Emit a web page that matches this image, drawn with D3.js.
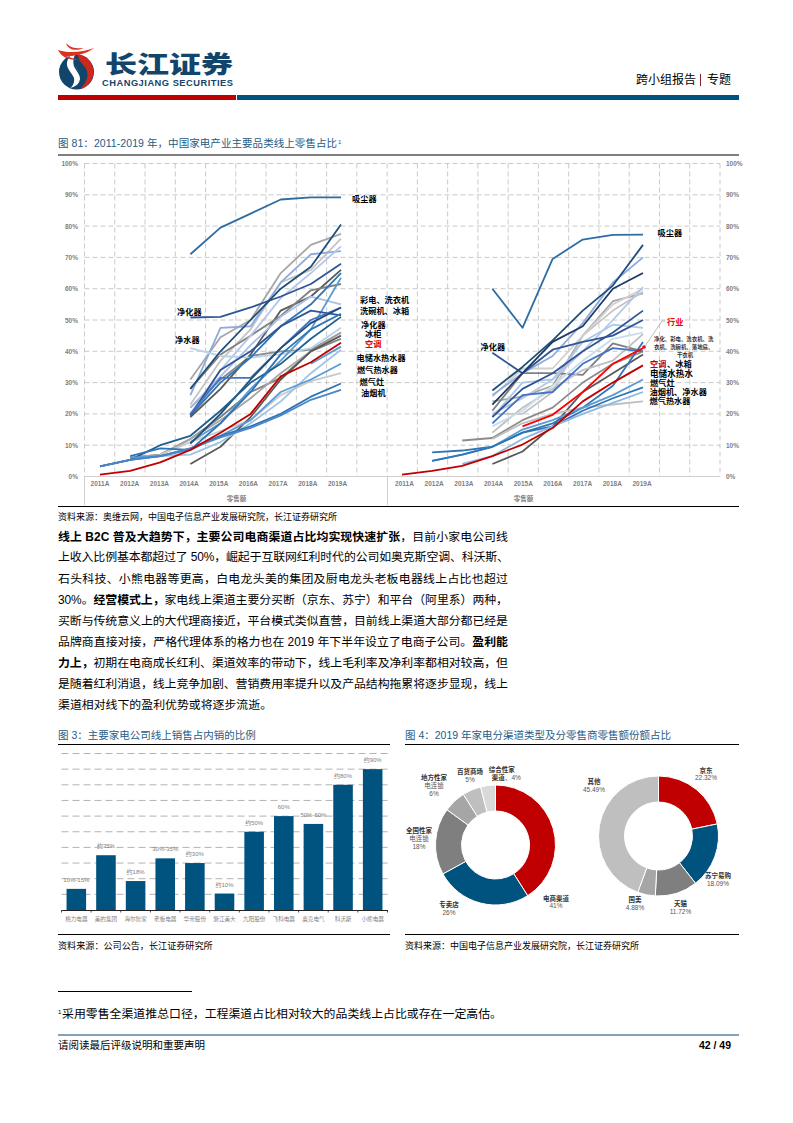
<!DOCTYPE html>
<html><head><meta charset="utf-8">
<script src="https://cdn.jsdelivr.net/npm/d3@7/dist/d3.min.js"></script>
<style>
html,body{margin:0;padding:0;background:#fff}
svg{display:block}
text{font-family:"Liberation Sans","Noto Sans CJK SC",sans-serif}
</style></head><body><svg id="page" width="793" height="1123"></svg>
<script>
// ---------- data ----------
const years = ["2011A","2012A","2013A","2014A","2015A","2016A","2017A","2018A","2019A"];
const pctTicks = [0,10,20,30,40,50,60,70,80,90,100];
const _ = null;
const leftValues = [
  [_,_,_,71,79.5,84,88.5,89.2,89.2],
  [_,_,_,31,44.5,50,65,74,77.5],
  [_,_,_,23,37,47,62,66,76],
  [_,_,_,22,31,38.5,40,40.5,46],
  [_,6,7,12,19,27,31.5,40,44],
  [_,6,7,12,18,25,33,40,46],
  [_,_,7,11,14.5,18,26,30.5,33],
  [_,_,_,4,9.5,19,31,40,45],
  [_,_,_,19,28,39,53,57.5,66],
  [_,_,_,28,39,45,51.3,59.5,61.5],
  [_,_,_,26,47.5,48,62,71,72],
  [_,_,_,20,34,45,57,65,73.5],
  [_,_,_,22,32,42,51,57.5,55],
  [_,_,_,41,38.5,38,39,41,47.5],
  [_,5.5,6.5,7,11,17,24,33,40.5],
  [_,_,_,50.8,51,54,57.5,61.5,68],
  [_,_,_,28,40,50,60,67,80.5],
  [_,_,_,19.5,30,38,48,55,65],
  [_,_,_,11,17,28,37,47,63.5],
  [_,_,_,19.5,34,40,48,53,51.5],
  [_,_,_,20,31.5,31.5,41,50,54],
  [_,_,_,10.5,20,31,41,49,54],
  [3.2,5.3,10,13,21,30,36,44,51],
  [_,6.5,9,8.5,17,27,39,47,52],
  [_,6,6.5,8.5,13,18,27,31,36],
  [_,_,_,_,_,_,_,36,41.5],
  [3.2,5.3,6.5,9,13,16,20,25.5,29.7],
  [3.2,5.3,6.5,9,12.5,15.5,19.5,24.5,27.7],
  [0.6,1.8,4.5,8.5,14,20,32,36.5,42.7]
];
const rightValues = [
  [_,_,_,60,47.5,69.5,75.7,77.2,77.3],
  [_,_,_,24,25.5,29,45,56,58.5],
  [_,_,_,20,20,27,45,53,59],
  [_,_,_,25.5,34.5,34.5,45,55,60],
  [_,_,11.5,12.3,18,22,30,36,40],
  [_,_,_,21,33,33,32.5,42.5,40],
  [_,_,_,4,8,16,27,33,39],
  [_,_,_,14,22,28,34,37,45.5],
  [_,_,_,12,17,20,22,23,24],
  [_,_,_,19,30,31,43,48.5,47.5],
  [_,_,_,20,25,31,40,50,60.5],
  [_,_,_,26,33,38.5,49,62,70],
  [_,_,_,16,21,29,37,44,46],
  [_,_,_,39.5,33,40.5,43,45,50],
  [_,_,_,27.5,35,43.5,53,61,74],
  [_,_,_,23,33,43,48,60,65],
  [_,_,_,17,26,27,36,41,40],
  [_,_,_,19,28,33,40,46,53],
  [_,7.7,8.3,9.5,14,17,22,29,43],
  [_,5,7,9.5,15,18,22,26,31],
  [_,5,7,9.5,14,16,21,25,28.5],
  [_,_,4,6.5,12,16,20,23.5,27],
  [_,_,_,_,16,19.7,27,36,41],
  [0.6,1.8,3.4,6.5,10.2,15.5,24,30,35.5]
];
const companies = ["格力电器","美的集团","海尔智家","老板电器","华帝股份","浙江美大","九阳股份","飞科电器","奥克电气","科沃斯","小熊电器"];
const companyShare = [13.5,35,18.5,33,30,10.5,50,60,55,80,90];
const companyLabels = ["10%-15%","约35%","约18%","30%-35%","约30%","约10%","约50%","60%","50%-60%","约80%","约90%"];
const channelShare = [41,26,18,6,5,4];
const retailerShare = [22.32,18.09,11.72,4.88,45.49];
const bodyLines = [
 [["线上 B2C 普及大趋势下，主要公司电商渠道占比均实现快速扩张",1],["，目前小家电公司线",0]],
 [["上收入比例基本都超过了 50%，崛起于互联网红利时代的公司如奥克斯空调、科沃斯、",0]],
 [["石头科技、小熊电器等更高，白电龙头美的集团及厨电龙头老板电器线上占比也超过",0]],
 [["30%。",0],["经营模式上，",1],["家电线上渠道主要分买断（京东、苏宁）和平台（阿里系）两种，",0]],
 [["买断与传统意义上的大代理商接近，平台模式类似直营，目前线上渠道大部分都已经是",0]],
 [["品牌商直接对接，严格代理体系的格力也在 2019 年下半年设立了电商子公司。",0],["盈利能",1]],
 [["力上，",1],["初期在电商成长红利、渠道效率的带动下，线上毛利率及净利率都相对较高，但",0]],
 [["是随着红利消退，线上竞争加剧、营销费用率提升以及产品结构拖累将逐步显现，线上",0]],
 [["渠道相对线下的盈利优势或将逐步流逝。",0]]
];

// ---------- styles ----------
const leftColors = ["#2e6ca4","#a6a6a6","#c4c4c4","#8c8c8c","#7f7f7f","#a6a6a6","#c9c9c9","#595959","#595959","#7f7f7f","#8faadc","#b4c7e7","#a9bfe6","#b8d2ea","#9dc3e6","#2f5597","#1f4e79","#2e75b6","#5b9bd5","#2f5597","#4472c4","#1f4e79","#1f5f8b","#2e75b6","#5b9bd5","#5b9bd5","#2e75b6","#4a86c8","#c00000"];
const rightColors = ["#2e6ca4","#a6a6a6","#c4c4c4","#d0d0d0","#8c8c8c","#7f7f7f","#595959","#bfbfbf","#bfbfbf","#a9c8e8","#b4c7e7","#8faadc","#c9dcf0","#2f5597","#1f4e79","#1f3864","#4472c4","#2f5597","#2e75b6","#5b9bd5","#2e75b6","#8fb8de","#ff0000","#c00000"];
const channelColors = ["#c00000","#00527f","#7f7f7f","#a6a6a6","#bfbfbf","#d9d9d9"];
const retailerColors = ["#c00000","#00527f","#7f7f7f","#a6a6a6","#bfbfbf"];
const TITLE = "#1d5c86", GREY = "#7f7f7f", GRID = "#bdbdbd";

const svg = d3.select("#page");
const T = (x,y,s,o={}) => svg.append("text").attr("x",x).attr("y",y)
  .attr("font-size",o.size||8).attr("font-weight",o.bold?"700":"400")
  .attr("fill",o.fill||"#000").attr("text-anchor",o.anchor||"start").text(s);
const rule = (x1,x2,y,c="#000",w=1) => svg.append("rect").attr("x",x1).attr("y",y-w/2).attr("width",x2-x1).attr("height",w).attr("fill",c);

// ---------- header ----------
const logo = svg.append("g");
logo.append("circle").attr("cx",76.5).attr("cy",72).attr("r",17.5).attr("fill","#12456b");
logo.append("path").attr("d","M78 54.6A17.5 17.5 0 0 1 80 89C88 82 90 72 84 66C81 62 78 60 78 54.6Z").attr("fill","#d0271d");
logo.append("path").attr("d","M70 56C62 66 72 72 74 78C75 83 72 87 70 88C80 86 82 78 79 72C75 65 71 62 75 55Z").attr("fill","#fff");
logo.append("path").attr("d","M75 60C72 66 78 70 80 75C82 80 80 85 78 88").attr("fill","none").attr("stroke","#12456b").attr("stroke-width",1.6);
logo.append("path").attr("d","M58 50C66 53 82 53 94 48C86 55 72 56 66 56L78 60C70 60 62 58 58 50Z").attr("fill","#e0301e");
logo.append("path").attr("d","M66 43C70 48 78 49 84 48C78 51 68 51 66 43Z").attr("fill","#e0301e");
svg.append("text").attr("x",105).attr("y",72.5).attr("font-size",24).attr("font-weight",900)
  .attr("fill","#12456b").attr("textLength",128).attr("lengthAdjust","spacingAndGlyphs")
  .style("font-family","'Noto Sans CJK SC'").text("长江证券");
svg.append("text").attr("x",102).attr("y",85.5).attr("font-size",9.3).attr("font-weight",700)
  .attr("fill","#12456b").attr("textLength",131).attr("lengthAdjust","spacing").text("CHANGJIANG SECURITIES");
rule(58,236,97.5,"#c00000",5);
rule(237,739,97.5,"#00527f",5);
T(636,84,"跨小组报告",{size:12});
rule(700,701,80,"#7a2020",12);
T(707,84,"专题",{size:12});

// ---------- figure 81 ----------
svg.append("text").attr("x",58).attr("y",147).attr("font-size",10.5).attr("fill",TITLE)
  .attr("textLength",279).attr("lengthAdjust","spacing").text("图 81：2011-2019 年，中国家电产业主要品类线上零售占比");
T(338,143.5,"1",{size:6,fill:TITLE});
rule(58,739,155);
const yPct = d3.scaleLinear().domain([0,100]).range([476.5,163.5]);
const gridXs = d3.range(0,22);
const xGrid = d3.scaleLinear().domain([0,21]).range([84.5,720]);
const gridG = svg.append("g");
gridG.selectAll("line.h").data(pctTicks.slice(1)).join("line")
  .attr("x1",84.5).attr("x2",720).attr("y1",yPct).attr("y2",yPct)
  .attr("stroke",GRID).attr("stroke-width",0.8).attr("stroke-dasharray","5 3");
gridG.selectAll("line.v").data(gridXs).join("line")
  .attr("x1",xGrid).attr("x2",xGrid).attr("y1",163.5).attr("y2",476.5)
  .attr("stroke",GRID).attr("stroke-width",0.8).attr("stroke-dasharray","5 3");
gridG.append("line").attr("x1",84.5).attr("x2",720).attr("y1",476.5).attr("y2",476.5).attr("stroke","#d0d0d0");
[84.5,387.5].forEach(x=>gridG.append("line").attr("x1",x).attr("x2",x).attr("y1",476.5).attr("y2",505).attr("stroke","#d0d0d0"));

const axisStyle = g => { g.select(".domain").remove(); g.selectAll("line").remove();
  g.selectAll("text").attr("font-size",6.5).attr("font-weight",700).attr("fill",GREY).style("font-family","'Liberation Sans'"); };
const pctFmt = d=>d+"%";
svg.append("g").attr("transform","translate(80,0)")
  .call(d3.axisLeft(yPct).tickValues(pctTicks).tickFormat(pctFmt).tickSize(0).tickPadding(2)).call(axisStyle);
svg.append("g").attr("transform","translate(725,0)")
  .call(d3.axisRight(yPct).tickValues(pctTicks).tickFormat(pctFmt).tickSize(0).tickPadding(1)).call(axisStyle);

function panel(vals, colors, x0, x1, labelX0, labelX1){
  const x = d3.scalePoint().domain(years).range([x0,x1]);
  const line = d3.line().defined(d=>d!=null).x((d,i)=>x(years[i])).y(d=>yPct(d)).curve(d3.curveLinear);
  svg.append("g").selectAll("path").data(vals).join("path")
    .attr("d",line).attr("fill","none").attr("stroke",(d,i)=>colors[i])
    .attr("stroke-width",1.8).attr("stroke-linejoin","round");
  const xl = d3.scalePoint().domain(years).range([labelX0,labelX1]);
  svg.append("g").attr("transform","translate(0,478)")
    .call(d3.axisBottom(xl).tickSize(0).tickPadding(3)).call(axisStyle);
}
panel(leftValues,leftColors,100,341,99.5,337);
panel(rightValues,rightColors,402,643,404,641.5);
T(236.5,501,"零售额",{size:6.5,bold:1,fill:GREY,anchor:"middle"});
T(523.5,501,"零售额",{size:6.5,bold:1,fill:GREY,anchor:"middle"});

const L = (x,y,s,o={}) => T(x,y+3,s,Object.assign({size:8.2,bold:1},o));
L(352,198.5,"吸尘器"); L(177,312,"净化器"); L(175,339.5,"净水器");
L(360,299.5,"彩电、洗衣机"); L(360,310.5,"洗碗机、冰箱");
L(361,324.5,"净化器"); L(365,333.5,"冰柜"); L(365,344,"空调",{fill:"#e00000"});
L(356.5,358,"电储水热水器"); L(357,370,"燃气热水器"); L(359.5,382,"燃气灶"); L(361,393,"油烟机");
L(657.5,232.5,"吸尘器"); L(480.5,346.5,"净化器");
L(667,321.5,"行业",{fill:"#ff0000"});
svg.append("path").attr("d","M645 346L662 321L665 321").attr("fill","none").attr("stroke","#aaa").attr("stroke-width",0.8);
svg.append("circle").attr("cx",644).attr("cy",347).attr("r",1.8).attr("fill","#ff0000");
T(654,341,"净化、彩电、洗衣机、洗",{size:5.4,bold:1,fill:"#333"});
T(654,349,"衣机、洗碗机、落地扇、",{size:5.4,bold:1,fill:"#333"});
T(685,357,"干衣机",{size:5.4,bold:1,fill:"#333",anchor:"middle"});
L(650,363.5,"空调",{fill:"#c00000"}); L(667,363.5,"、冰箱");
L(650,373.5,"电储水热水",{size:8.6}); L(650,382.5,"燃气灶"); L(649.5,391.5,"油烟机、净水器"); L(649.5,400.5,"燃气热水器");

rule(58,739,506.5);
T(58,519.5,"资料来源：奥维云网，中国电子信息产业发展研究院，长江证券研究所",{size:9});

// ---------- body ----------
const lineYs = [541,561,582.5,603.5,625,645.5,666.5,688,709];
bodyLines.forEach((segs,i)=>{
  const t = svg.append("text").attr("x",58).attr("y",lineYs[i]).attr("font-size",11.9).attr("fill","#000");
  if(i<8) t.attr("textLength",i===1?451:450).attr("lengthAdjust","spacing");
  segs.forEach(([s,b])=>t.append("tspan").attr("font-weight",b?"700":"400").text(s));
});

// ---------- figure 3 ----------
T(58,739,"图 3：主要家电公司线上销售占内销的比例",{size:10.5,fill:TITLE});
rule(58,390,744.5);
const barX = d3.scaleBand().domain(companies).range([61.5,387.5]).paddingInner(0.34).paddingOuter(0.17);
const barY = d3.scaleLinear().domain([0,100]).range([910,753.5]);
svg.append("g").selectAll("line").data(d3.range(10,101,10)).join("line")
  .attr("x1",61.5).attr("x2",387.5).attr("y1",barY).attr("y2",barY)
  .attr("stroke","#a0a0a0").attr("stroke-width",0.8).attr("stroke-dasharray","7 4");
svg.append("g").selectAll("rect").data(companies).join("rect")
  .attr("x",d=>barX(d)).attr("width",barX.bandwidth())
  .attr("y",(d,i)=>barY(companyShare[i])).attr("height",(d,i)=>barY(0)-barY(companyShare[i]))
  .attr("fill","#00527f");
const barAxis = svg.append("g").attr("transform","translate(0,910)")
  .call(d3.axisBottom(barX).tickSize(0).tickPadding(7));
barAxis.select(".domain").attr("stroke","#222");
barAxis.selectAll("text").attr("font-size",5.6).attr("fill",GREY).style("font-family","'Noto Sans CJK SC'");
svg.append("g").selectAll("line").data(d3.range(0,12)).join("line")
  .attr("x1",d=>61.5+d*326/11).attr("x2",d=>61.5+d*326/11).attr("y1",910).attr("y2",912.5).attr("stroke","#222").attr("stroke-width",0.8);
svg.append("g").selectAll("text").data(companies).join("text")
  .attr("x",d=>barX(d)+barX.bandwidth()/2).attr("y",(d,i)=>barY(companyShare[i])-7)
  .attr("text-anchor","middle").attr("font-size",6).attr("fill",GREY).text((d,i)=>companyLabels[i]);
rule(58,390,934.5);
T(58,949,"资料来源：公司公告，长江证券研究所",{size:9.1});

// ---------- figure 4 ----------
T(405,739,"图 4：2019 年家电分渠道类型及分零售商零售额份额占比",{size:10.5,fill:TITLE});
rule(405,739,744.5);
function donut(values,colors,cx,cy){
  const arc = d3.arc().innerRadius(34).outerRadius(60);
  svg.append("g").attr("transform",`translate(${cx},${cy})`)
    .selectAll("path").data(d3.pie().sort(null)(values)).join("path")
    .attr("d",arc).attr("fill",(d,i)=>colors[i]).attr("stroke","#fff").attr("stroke-width",1);
}
donut(channelShare,channelColors,495.5,845);
donut(retailerShare,retailerColors,658.5,836);
const D = (x,y,a,b) => { T(x,y,a,{size:6.5,bold:1,fill:"#333",anchor:"middle"}); if(b) T(x,y+7.5,b,{size:6.5,fill:"#555",anchor:"middle"}); };
D(556,900.5,"电商渠道",channelShare[0]+"%");
D(449,907,"专卖店",channelShare[1]+"%");
D(419,833,"全国性家","电连锁"); T(419,848.5,channelShare[2]+"%",{size:6.5,fill:"#555",anchor:"middle"});
D(434,780,"地方性家","电连锁"); T(434,796,channelShare[3]+"%",{size:6.5,fill:"#555",anchor:"middle"});
D(470,774,"百货商场",channelShare[4]+"%");
T(501.7,772,"综合性家",{size:6.5,bold:1,fill:"#333",anchor:"middle"});
T(491.7,780,"渠道",{size:6.5,bold:1,fill:"#333"}); T(505,780,"、"+channelShare[5]+"%",{size:6.5,fill:"#555"});
D(706,772.5,"京东",retailerShare[0]+"%");
D(718,878,"苏宁易购",retailerShare[1]+"%");
D(680.5,906,"天猫",retailerShare[2]+"%");
D(635,902,"国美",retailerShare[3]+"%");
D(594,784,"其他",retailerShare[4]+"%");
rule(405,739,934.5);
T(405,949,"资料来源：中国电子信息产业发展研究院，长江证券研究所",{size:9});

// ---------- footer ----------
rule(58,192,991.5);
T(58,1014,"1",{size:6});
T(62,1018,"采用零售全渠道推总口径，工程渠道占比相对较大的品类线上占比或存在一定高估。",{size:11.9});
rule(58,739,1035,"#12456b",1);
T(58,1049,"请阅读最后评级说明和重要声明",{size:10.5});
T(731,1049,"42 / 49",{size:10.5,bold:1,anchor:"end"});
</script></body></html>
